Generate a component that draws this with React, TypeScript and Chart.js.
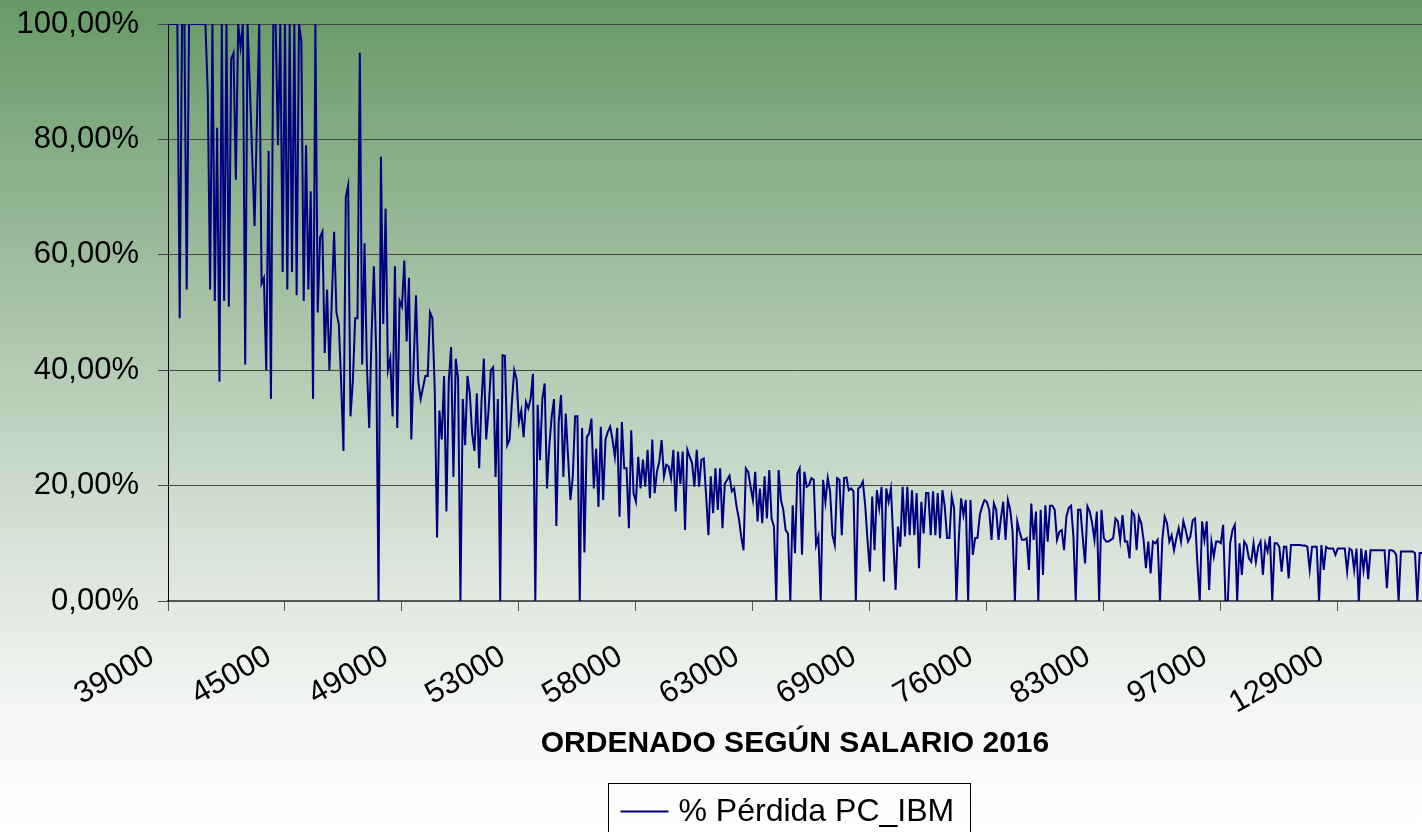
import React, { useEffect, useRef } from 'react';
import { Chart, registerables } from 'chart.js';

Chart.register(...registerables);

const seriesLabel = '% Pérdida PC_IBM';
const axisTitle = 'ORDENADO SEGÚN SALARIO 2016';
const salaryTickLabels = ['39000', '45000', '49000', '53000', '58000', '63000', '69000', '76000', '83000', '97000', '129000'];
const pointsPerLabel = 50;

// % loss values, in order of salary (one array per labelled block of points)
const loss39000 = [
  100, 100, 100, 100, 100, 49, 100, 100, 54, 100,
  100, 100, 100, 100, 100, 100, 100, 88, 54, 100,
  52, 82, 38, 100, 52, 100, 51, 94, 95, 73,
  100, 96, 100, 41, 100, 89, 77, 65, 83, 100,
  55, 56, 40, 78, 35, 100, 100, 79, 100, 57,
];
const loss45000 = [
  100, 54, 100, 57, 100, 53, 100, 97, 52, 79,
  54, 71, 35, 100, 50, 63, 64, 43, 54, 40,
  52, 64, 50, 48, 38, 26, 70, 72, 32, 38,
  49, 49, 95, 41, 62, 41, 30, 46, 58, 43,
  0, 77, 48, 68, 40, 42, 32, 58, 30, 52,
];
const loss49000 = [
  51, 59, 45, 56, 28, 41, 53, 38, 35, 37,
  39, 39, 50, 49, 37, 11, 33, 28, 39, 15.5,
  38, 44, 21.5, 42, 38.5, 0, 35, 27, 39, 36,
  29, 26, 36, 23, 34.5, 42, 28, 33, 40, 40.5,
  21.5, 35, 0, 42.6, 42.5, 27, 28, 34.5, 40, 38.5,
];
const loss53000 = [
  31, 33, 28.4, 34.5, 33.4, 35, 39.4, 0, 34, 24.4,
  35, 37.7, 19.5, 27, 32, 35, 13, 31, 35.7, 21.5,
  32.5, 25, 17.5, 21.5, 32, 32, 0, 30, 8.4, 28.4,
  29, 31.6, 19.5, 26.4, 16.3, 30.2, 17.5, 28, 29.3, 30.2,
  28, 25, 30, 14.6, 31, 23, 23, 12.6, 29.6, 18.6,
];
const loss58000 = [
  17.2, 25, 19.5, 24.5, 19.8, 26.2, 17.8, 28, 18.7, 22.4,
  24.2, 27.9, 21.6, 23.6, 23.3, 21.3, 26.2, 15.5, 25.9, 20.3,
  25.9, 12.3, 26.2, 25, 23.9, 19.8, 26.2, 19.8, 24.5, 24.7,
  18.4, 11.4, 21.6, 15.2, 23, 15.8, 23, 12.6, 20.3, 21,
  21.7, 19, 19.5, 16.4, 14.3, 11.2, 8.8, 23, 22.4, 19.8,
];
const loss63000 = [
  17.5, 22.4, 13.8, 19.5, 13.5, 21.6, 14.3, 22.7, 14.3, 12.9,
  0, 22.7, 17.5, 15.8, 12.3, 11.7, 0, 16.6, 8.3, 22.1,
  23, 8, 22.4, 19.8, 20.1, 21.3, 21, 9.7, 11.2, 0,
  21, 17.2, 21.3, 19, 11.4, 9.7, 21.3, 21, 11.4, 21.3,
  21.4, 19.2, 19.5, 19, 0, 19.5, 19.8, 20.7, 16.6, 10.6,
];
const loss69000 = [
  5.1, 18.1, 8.8, 19.2, 16.1, 19.8, 3.4, 19.5, 17.2, 19.5,
  10.6, 1.9, 12.9, 9.4, 19.8, 11.2, 19.8, 11.4, 19.2, 11.4,
  18.7, 5.7, 17.2, 11.7, 18.7, 18.7, 11.4, 19, 11.4, 18.7,
  10.9, 19.2, 16.4, 10.9, 10.9, 18.1, 16.1, 0, 10.6, 17.8,
  14.9, 17.5, 0, 17.5, 8, 10.9, 10.9, 14.9, 16.4, 17.5,
];
const loss76000 = [
  17.2, 15.8, 10.6, 16.9, 15.8, 10.6, 14.3, 17.2, 10.6, 17.5,
  15.8, 12, 0, 13.8, 12, 10.6, 10.6, 10.9, 5.4, 16.9,
  10.6, 15.5, 0, 15.8, 4.5, 16.6, 10.3, 16.5, 16.5, 15.8,
  10.6, 12, 12.3, 8.8, 14.6, 16.1, 16.5, 11.2, 0, 15.8,
  15.8, 10.9, 6.5, 16.4, 15.5, 13.5, 10.6, 15.5, 0, 15.8,
];
const loss83000 = [
  10.9, 10.3, 10.3, 10.6, 10.9, 14.3, 13.8, 10.6, 14.9, 10.3,
  10.3, 7.4, 15.5, 14.9, 8.8, 14.6, 13.5, 10.6, 5.7, 10.3,
  4.8, 10.3, 10, 10.6, 0, 10.6, 14.6, 13.5, 10.3, 11.4,
  8.8, 10.9, 12.6, 10.3, 13.8, 12.3, 10.3, 11.2, 14, 14.3,
  6.5, 0, 13.8, 10.6, 13.8, 1.9, 10.3, 7.7, 10.3, 10.3,
];
const loss97000 = [
  10, 13.2, 0, 0, 10, 12.3, 13.2, 0, 10, 4.5,
  10.3, 9.7, 7.4, 6.8, 10, 6.8, 9.4, 10.3, 4.5, 10,
  8.6, 11.2, 0, 10, 10, 9.4, 5.1, 9.4, 9.4, 3.9,
  9.7, 9.7, 9.7, 9.7, 9.7, 9.6, 9.6, 9.4, 5.4, 9.4,
  9.4, 9.4, 0, 9.7, 5.4, 9.4, 9.1, 9.1, 9.1, 8,
];
const loss129000 = [
  9.1, 9.1, 9.1, 9.1, 5.1, 9.1, 8.8, 5.4, 9.1, 0,
  9.1, 5.4, 8.8, 3.8, 8.8, 8.8, 8.8, 8.8, 8.8, 8.8,
  8.8, 2.2, 8.8, 8.8, 8.6, 8, 0, 8.6, 8.6, 8.6,
  8.6, 8.6, 8.6, 8.3, 0, 8.3, 8.3,
];

const lossSeries = [
  ...loss39000, ...loss45000, ...loss49000, ...loss53000, ...loss58000, ...loss63000,
  ...loss69000, ...loss76000, ...loss83000, ...loss97000, ...loss129000,
];

const FONT = '"Liberation Sans", Arial, Helvetica, sans-serif';
const LINE_COLOR = '#000080';

const overlayPlugin = {
  id: 'overlayTexts',
  afterDraw(chart: any) {
    const ctx = chart.ctx as CanvasRenderingContext2D;
    const area = chart.chartArea;
    ctx.save();
    // axis title
    ctx.fillStyle = '#000000';
    ctx.font = `bold 30px ${FONT}`;
    ctx.textAlign = 'center';
    ctx.textBaseline = 'alphabetic';
    ctx.fillText(axisTitle, (area.left + area.right) / 2, area.bottom + 151);
    // legend box
    const ds = chart.data.datasets[0];
    const boxLeft = 608.5;
    const boxTop = area.bottom + 182.5;
    ctx.strokeStyle = '#000000';
    ctx.lineWidth = 1;
    ctx.strokeRect(boxLeft, boxTop, 362, 80);
    ctx.strokeStyle = ds.borderColor;
    ctx.lineWidth = 2;
    ctx.beginPath();
    ctx.moveTo(boxLeft + 12, boxTop + 28);
    ctx.lineTo(boxLeft + 60, boxTop + 28);
    ctx.stroke();
    ctx.font = `32px ${FONT}`;
    ctx.textAlign = 'left';
    ctx.fillStyle = '#000000';
    ctx.fillText(ds.label, boxLeft + 70, boxTop + 37.5);
    ctx.restore();
  },
};

export default function App() {
  const canvasRef = useRef<HTMLCanvasElement | null>(null);

  useEffect(() => {
    const canvas = canvasRef.current;
    if (!canvas) return;
    const chart = new Chart(canvas, {
      type: 'line',
      data: {
        datasets: [
          {
            label: seriesLabel,
            data: lossSeries.map((v, i) => ({ x: i, y: v })),
            borderColor: LINE_COLOR,
            backgroundColor: LINE_COLOR,
            borderWidth: 2,
            pointRadius: 0,
            tension: 0,
            fill: false,
          },
        ],
      },
      options: {
        responsive: false,
        maintainAspectRatio: false,
        animation: false,
        events: [],
        layout: { padding: { top: 24, left: 0, right: 0, bottom: 0 } },
        plugins: {
          legend: { display: false },
          tooltip: { enabled: false },
          title: { display: false },
        },
        scales: {
          x: {
            type: 'linear',
            min: 0,
            max: lossSeries.length - 1,
            afterFit: (s: any) => {
              s.height = 231;
            },
            ticks: {
              stepSize: pointsPerLabel,
              includeBounds: false,
              autoSkip: false,
              minRotation: 30,
              maxRotation: 30,
              padding: 27,
              labelOffset: -16,
              color: '#000000',
              font: { family: FONT, size: 31 },
              callback: (value: any) => salaryTickLabels[Math.round(Number(value) / pointsPerLabel)] ?? '',
            },
            grid: { drawOnChartArea: false, drawTicks: true, tickLength: 10, color: '#555555', lineWidth: 1 },
            border: { display: true, color: '#555555', width: 2 },
          },
          y: {
            min: 0,
            max: 100,
            afterFit: (s: any) => {
              s.width = 168;
              s.paddingTop = 0;
              s.paddingBottom = 0;
            },
            ticks: {
              stepSize: 20,
              padding: 19,
              color: '#000000',
              font: { family: FONT, size: 31 },
              callback: (value: any) => Number(value).toFixed(2).replace('.', ',') + '%',
            },
            grid: { color: '#454545', lineWidth: 1, drawTicks: true, tickLength: 10 },
            border: { display: true, color: '#000000', width: 1 },
          },
        },
      },
      plugins: [overlayPlugin],
    });
    return () => chart.destroy();
  }, []);

  return (
    <div
      style={{
        position: 'absolute',
        left: 0,
        top: 0,
        width: 1422,
        height: 832,
        overflow: 'hidden',
        background: 'linear-gradient(to bottom, #679967 0%, #a9c4a9 38%, #d9e3d9 66%, #f3f6f3 85%, #ffffff 100%)',
      }}
    >
      <canvas ref={canvasRef} width={1422} height={832} style={{ display: 'block' }} />
    </div>
  );
}
